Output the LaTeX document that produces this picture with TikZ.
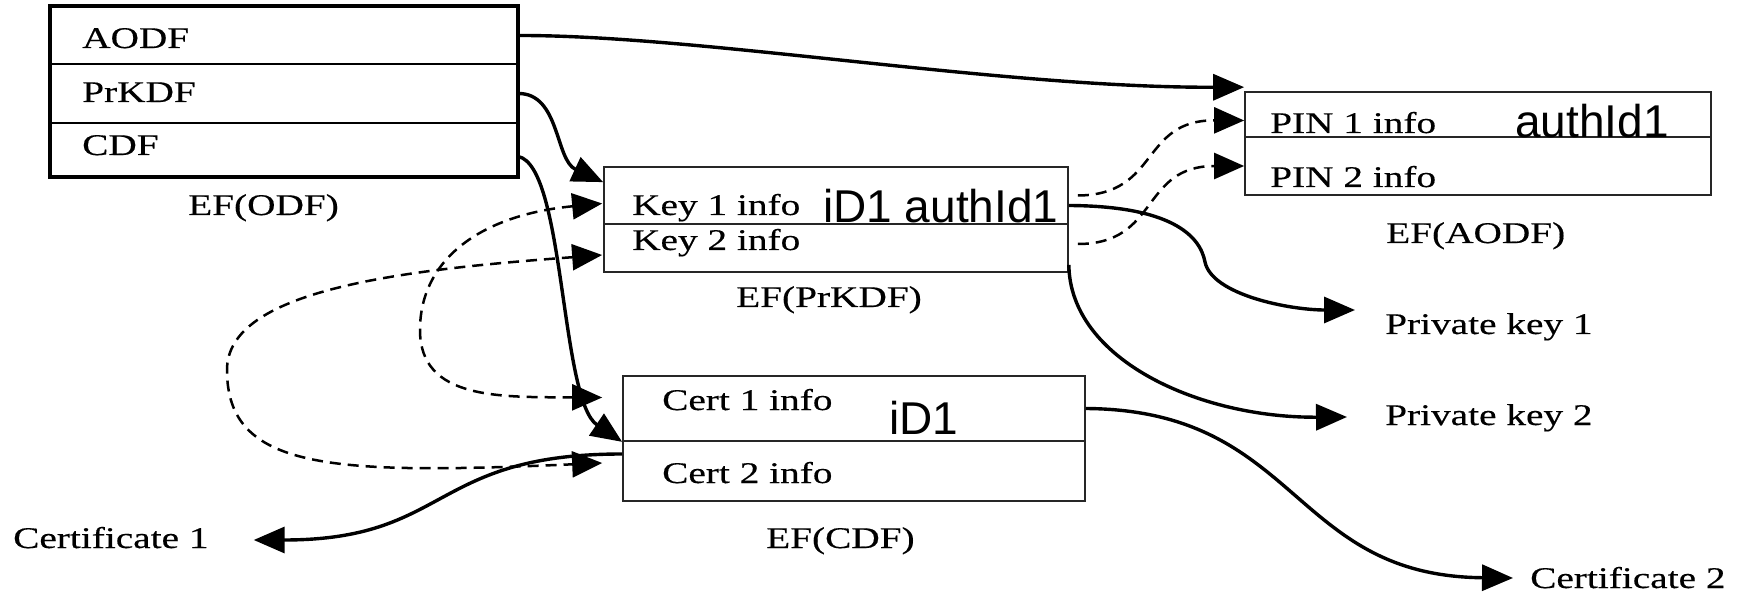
\documentclass[tikz,border=0pt]{standalone}
\usepackage{fontspec}
\usetikzlibrary{arrows.meta}
\newfontfamily\figserif[FakeStretch=1.31,FakeBold=0.4]{Liberation Serif}
\newfontfamily\figsans{Liberation Sans}
\tikzset{
	rowbox/.style={draw=black!85, line width=1.7pt, inner sep=0pt},
	txt/.style={inner sep=0pt, anchor=base west, font=\figserif\fontsize{30}{36}\selectfont},
	idtxt/.style={inner sep=0pt, anchor=base west, font=\figsans\fontsize{46}{54}\selectfont},
	link/.style={line width=3.4pt, -{Triangle[length=31pt,width=26pt]}},
	ref/.style={line width=2.5pt, dash pattern=on 11pt off 7pt, -{Triangle[length=30pt,width=26pt]}},
	bothref/.style={ref, {Triangle[length=30pt,width=26pt]}-{Triangle[length=30pt,width=26pt]}}
}
\begin{document}
\begin{tikzpicture}[x=1pt, y=-1pt]
						\useasboundingbox (0,0) rectangle (1746,593);
						% EF(ODF)
						\node[rowbox, draw=black, line width=2pt, minimum width=466pt, minimum height=57pt] (odfA) at (284,35.5) {};
						\node[rowbox, draw=black, line width=2pt, minimum width=466pt, minimum height=59pt] (odfB) at (284,93.5) {};
						\node[rowbox, draw=black, line width=2pt, minimum width=466pt, minimum height=53pt] (odfC) at (284,149.5) {};
						\draw[line width=3.5pt] (odfA.north west) rectangle (odfC.south east);
						\node[txt] (tAODF) at (82,48) {AODF};
						\node[txt] (tPrKDF) at (82,102) {PrKDF};
						\node[txt] (tCDF) at (82,155) {CDF};
						\node[txt] (capODF) at (188,215) {EF(ODF)};
						% EF(PrKDF)
						\node[rowbox, minimum width=464pt, minimum height=57pt] (prkA) at (836,195.5) {};
						\node[rowbox, minimum width=464pt, minimum height=48pt] (prkB) at (836,248) {};
						\node[txt] (tKey1) at (632,215) {Key 1 info};
						\node[txt] (tKey2) at (632,250) {Key 2 info};
						\node[idtxt] (idKey) at (823,223) {iD1 authId1};
						\node[txt] (capPrKDF) at (736,307) {EF(PrKDF)};
						% EF(AODF)
						\node[rowbox, minimum width=466pt, minimum height=45pt] (aodfA) at (1478,114.5) {};
						\node[rowbox, minimum width=466pt, minimum height=58pt] (aodfB) at (1478,166) {};
						\node[txt] (tPin1) at (1270,133) {PIN 1 info};
						\node[txt] (tPin2) at (1270,187) {PIN 2 info};
						\node[idtxt] (idPin) at (1515,138) {authId1};
						\node[txt] (capAODF) at (1386,243) {EF(AODF)};
						% EF(CDF)
						\node[rowbox, minimum width=462pt, minimum height=65pt] (cdfA) at (854,408.5) {};
						\node[rowbox, minimum width=462pt, minimum height=60pt] (cdfB) at (854,471) {};
						\node[txt] (tCert1) at (662,410) {Cert 1 info};
						\node[txt] (tCert2) at (662,483) {Cert 2 info};
						\node[idtxt] (idCert) at (889,435) {iD1};
						\node[txt] (capCDF) at (766,548) {EF(CDF)};
						% Objects
						\node[txt] (pk1) at (1385,334) {Private key 1};
						\node[txt] (pk2) at (1385,425) {Private key 2};
						\node[txt] (cert2) at (1530,588) {Certificate 2};
						\node[txt] (cert1) at (13,548) {Certificate 1};
						% Solid Arrows
						\draw[link] (odfA.east) .. controls (700,35) and (1000,88) .. ([yshift=4pt]aodfA.north west);
						\draw[link] (odfB.east) .. controls (560,93) and (555,160) .. ([yshift=-16pt]prkA.north west);
						\draw[link] ([yshift=-7pt]odfC.east) .. controls (565,165) and (560,400) .. (cdfA.south west);
						\draw[link] ([yshift=-10pt]prkA.east) .. controls (1170,206) and (1200,235) .. (1205,262) .. controls (1212,295) and (1290,310) .. ([xshift=-30pt,yshift=24pt]pk1.base west);
						\draw[link] ([yshift=8pt]prkB.south east) .. controls (1070,360) and (1200,418) .. ([xshift=-38pt,yshift=8pt]pk2.base west);
						\draw[link] (cdfA.east) .. controls (1300,410) and (1290,576) .. ([xshift=-17pt,yshift=10pt]cert2.base west);
						\draw[link] ([yshift=17pt]cdfB.west) .. controls (430,454) and (450,540) .. ([xshift=45pt,yshift=8pt]cert1.base east);
						% Dashed Arrows
						\draw[ref] ([xshift=9pt]prkA.east) .. controls (1160,195) and (1140,120) .. ([yshift=-6pt]aodfA.west);
						\draw[ref] ([xshift=9pt,yshift=4pt]prkB.east) .. controls (1160,244) and (1140,166) .. (aodfB.west);
						\draw[bothref] ([xshift=-1pt,yshift=-8pt]prkA.west) .. controls (480,215) and (420,260) .. (420,330) .. controls (420,400) and (500,397) .. ([xshift=-20pt,yshift=11pt]cdfA.west);
						\draw[bothref] ([xshift=-1pt,yshift=-7pt]prkB.west) .. controls (400,270) and (227,290) .. (227,370) .. controls (227,470) and (330,475) .. ([xshift=-20pt,yshift=8pt]cdfB.west);
					\end{tikzpicture}
\end{document}
